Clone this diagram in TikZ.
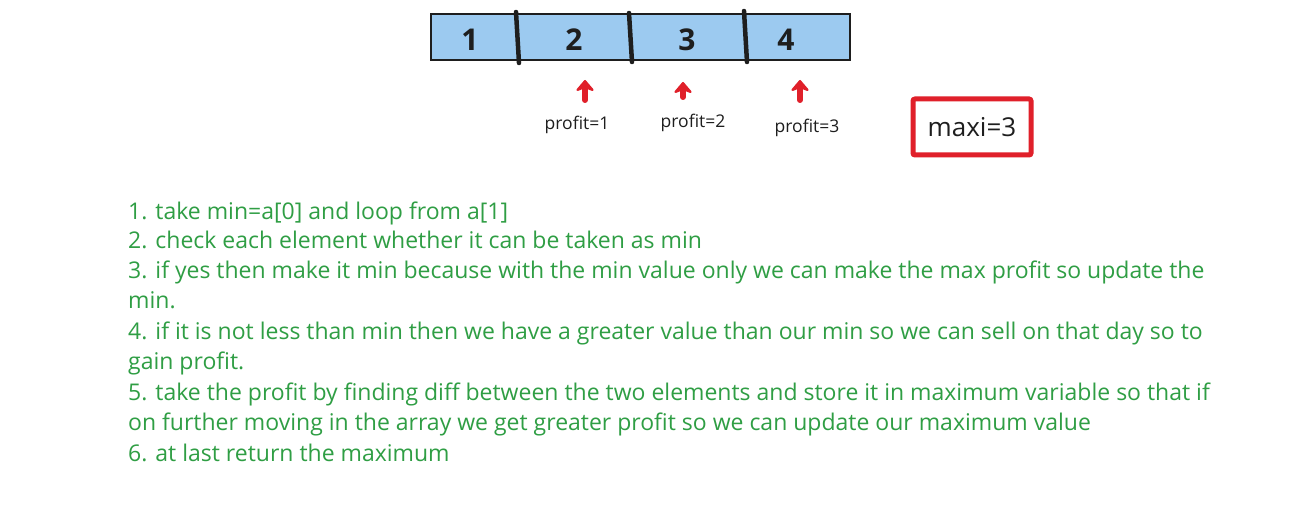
\documentclass[tikz,border=0pt]{standalone}
\usepackage{fontspec}
\setmainfont{Open Sans}
\usetikzlibrary{arrows.meta}
\definecolor{cellblue}{HTML}{9CCAF0}
\definecolor{edge}{HTML}{1E1E1E}
\definecolor{redink}{HTML}{E0202A}
\definecolor{greenink}{HTML}{2F9E44}
\tikzset{
  cell/.style={draw=edge,line width=1.8pt,fill=cellblue},
  divider/.style={draw=edge,line width=4.5pt,line cap=round},
  digit/.style={font=\fontsize{30}{30}\selectfont\bfseries,text=edge},
  uparrow/.style={draw=redink,line width=6pt,line cap=round,-{Stealth[length=13pt,width=22pt,round]}},
  plabel/.style={font=\fontsize{17.5}{17.5}\selectfont,text=edge},
  maxbox/.style={draw=redink,line width=5pt,rounded corners=2pt,minimum width=118pt,minimum height=56pt,font=\fontsize{26}{26}\selectfont,text=edge},
  step line/.style={anchor=base west,font=\fontsize{23}{23}\selectfont,text=greenink,inner sep=0pt}
}
\begin{document}
\begin{tikzpicture}[x=1pt,y=-1pt]
\useasboundingbox (0,0) rectangle (1301,513);
\fill[white] (0,0) rectangle (1301,513);
\node[cell,minimum width=419pt,minimum height=46pt,inner sep=0pt] (arr) at (640.5,37) {};
\draw[divider] (516,12) -- (519,63);
\draw[divider] (629,13) -- (632,62);
\draw[divider] (744,11) -- (747,62);
\node[digit] (d1) at (470,40) {1};
\node[digit] (d2) at (574,40) {2};
\node[digit] (d3) at (687,40) {3};
\node[digit] (d4) at (786,40) {4};
\coordinate (a1s) at (585,100);
\coordinate (a1e) at (585,80);
\coordinate (a2s) at (683,97);
\coordinate (a2e) at (683,82);
\coordinate (a3s) at (800,100);
\coordinate (a3e) at (800,80);
\draw[uparrow] (a1s) -- (a1e);
\draw[uparrow] (a2s) -- (a2e);
\draw[uparrow] (a3s) -- (a3e);
\node[plabel] (p1) at (577,125) {profit=1};
\node[plabel] (p2) at (693,123) {profit=2};
\node[plabel] (p3) at (807,128) {profit=3};
\node[maxbox] (mx) at (972,127) {maxi=3};
\node[step line] (l1) at (128,219) {1. take min=a[0] and loop from a[1]};
\node[step line] (l2) at (128,248) {2. check each element whether it can be taken as min};
\node[step line] (l3) at (128,278) {3. if yes then make it min because with the min value only we can make the max profit so update the};
\node[step line] (l4) at (128,308) {min.};
\node[step line] (l5) at (128,339) {4. if it is not less than min then we have a greater value than our min so we can sell on that day so to};
\node[step line] (l6) at (128,369) {gain profit.};
\node[step line] (l7) at (128,400) {5. take the profit by finding diff between the two elements and store it in maximum variable so that if};
\node[step line] (l8) at (128,430) {on further moving in the array we get greater profit so we can update our maximum value};
\node[step line] (l9) at (128,461) {6. at last return the maximum};
\end{tikzpicture}
\end{document}
